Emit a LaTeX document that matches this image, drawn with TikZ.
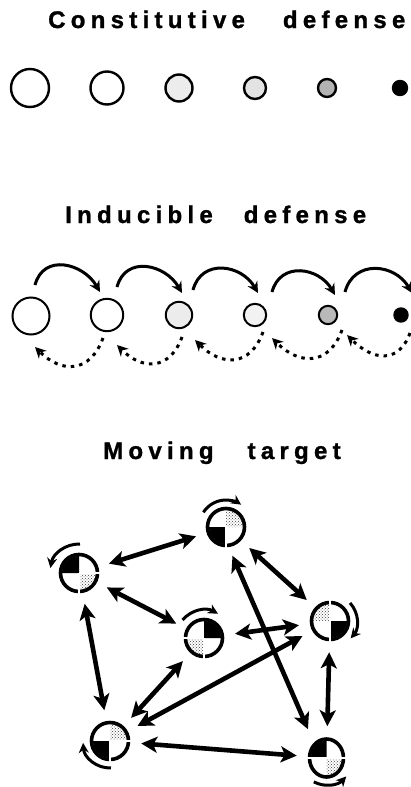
\documentclass[tikz,border=0pt]{standalone}
\usepackage{fontspec}
\setmainfont{Liberation Sans}
\newfontfamily\titlefont[LetterSpace=22, FakeBold=1.2]{Liberation Sans Bold}
\usetikzlibrary{arrows.meta,calc,patterns,shapes.geometric}

% quarter fills of a target disk: node, black sector start, grey sector start, x radius, y radius
\newcommand\quarters[5]{%
  \fill[black] (#1.center) -- ++(#2:#4 and #5)
    arc[start angle=#2, delta angle=90, x radius=#4, y radius=#5] -- cycle;
  \fill[pattern=crosshatch dots, pattern color=black!75] (#1.center) -- ++(#3:#4 and #5)
    arc[start angle=#3, delta angle=90, x radius=#4, y radius=#5] -- cycle;
}
% white slits cut through the ring along the dividers
\newcommand\slits[2]{%
  \foreach \a in {#2} \draw[white, line width=1.8pt] (#1.center) -- ++(\a:24);
}

\begin{document}
\begin{tikzpicture}[x=1pt, y=1pt,
  title/.style={anchor=base west, inner sep=0pt,
    font=\titlefont\fontsize{24}{28}\selectfont},
  dotA/.style={circle, draw, line width=2.4pt, inner sep=0pt, minimum size=#1},
  dotB/.style={circle, draw, line width=2pt, inner sep=0pt, minimum size=#1},
  target/.style={circle, draw, line width=3.6pt, inner sep=0pt, minimum size=37pt},
  ovaltarget/.style={ellipse, draw, line width=3.6pt, inner sep=0pt,
    minimum width=34pt, minimum height=38pt},
  fwd/.style={line width=3pt, -{Stealth[length=11pt,width=11pt]}},
  back/.style={line width=3pt, dash pattern=on 3.5pt off 5pt,
    -{Stealth[length=11pt,width=11pt]}},
  spin/.style={line width=3pt, -{Stealth[length=10pt,width=10pt]}},
  link/.style={line width=4.6pt,
    {Stealth[length=16pt,width=16pt,inset=4pt]}-{Stealth[length=16pt,width=16pt,inset=4pt]},
    shorten <=11pt, shorten >=11pt},
]
\useasboundingbox (0,0) rectangle (411,-787);
\fill[white] (0,0) rectangle (411,-787);

% ---- constitutive defense ----
\node[title] (t1) at (48,-28) {Constitutive\hspace{38pt}defense};
\node[dotA=38pt] (a1) at (30,-88) {};
\node[dotA=33pt] (a2) at (107,-88) {};
\node[dotA=27pt, fill=gray!15] (a3) at (179,-88) {};
\node[dotA=22pt, fill=gray!22] (a4) at (255,-88) {};
\node[dotA=18pt, fill=gray!60] (a5) at (327,-88) {};
\node[dotA=14pt, fill=black] (a6) at (400,-88) {};

% ---- inducible defense ----
\node[title] (t2) at (65,-223) {Inducible\hspace{31pt}defense};
\node[dotB=37pt] (b1) at (31,-316) {};
\node[dotB=32.4pt] (b2) at (107,-315) {};
\node[dotB=26.4pt, fill=gray!15] (b3) at (179,-315) {};
\node[dotB=22.4pt, fill=gray!10] (b4) at (255,-315) {};
\node[dotB=18.4pt, fill=gray!55] (b5) at (328,-315) {};
\node[dotB=13.4pt, fill=black] (b6) at (401,-315) {};

\draw[fwd] ($(b1)+(4,31)$)  to[out=75,in=120,looseness=1.3] ($(b2)+(-7,23)$);
\draw[fwd] ($(b2)+(10,28)$) to[out=75,in=120,looseness=1.3] ($(b3)+(3,22)$);
\draw[fwd] ($(b3)+(14,25)$) to[out=75,in=120,looseness=1.3] ($(b4)+(3,22)$);
\draw[fwd] ($(b4)+(17,23)$) to[out=75,in=120,looseness=1.3] ($(b5)+(7,20)$);
\draw[fwd] ($(b5)+(17,23)$) to[out=75,in=120,looseness=1.3] ($(b6)+(11,22)$);

\draw[back] ($(b2)+(-4,-23)$) to[out=250,in=-45,looseness=1.4] ($(b1)+(4,-31)$);
\draw[back] ($(b3)+(3,-22)$)  to[out=250,in=-45,looseness=1.4] ($(b2)+(10,-30)$);
\draw[back] ($(b4)+(8,-17)$)  to[out=250,in=-45,looseness=1.4] ($(b3)+(16,-25)$);
\draw[back] ($(b5)+(14,-15)$) to[out=250,in=-45,looseness=1.4] ($(b4)+(17,-23)$);
\draw[back] ($(b6)+(9,-18)$)  to[out=250,in=-45,looseness=1.4] ($(b5)+(19,-20)$);

% ---- moving target ----
\node[title] (t3) at (103,-459) {Moving\hspace{34pt}target};

\node[target] (T)  at (226,-527) {};
\node[target] (L)  at (79,-573) {};
\node[target] (M)  at (204,-638) {};
\node[target] (R)  at (330,-621) {};
\node[target] (BL) at (110,-741) {};
\node[ovaltarget] (BR) at (326.5,-758) {};

\quarters{T}{180}{0}{17}{17}
\quarters{L}{90}{270}{17}{17}
\quarters{M}{0}{180}{17}{17}
\quarters{R}{270}{90}{17}{17}
\quarters{BL}{180}{0}{17}{17}
\quarters{BR}{90}{270}{15.5}{17.5}

\slits{T}{270}
\slits{L}{270,0}
\slits{M}{270,180}
\slits{R}{90,270}
\slits{BL}{270,0}
\slits{BR}{180,0}

% spin of each target
\draw[spin] (T.center)  ++(147:27) arc[start angle=147, end angle=56, radius=27];
\draw[spin] (L.center)  ++(88:29)  arc[start angle=88, end angle=170, radius=29];
\draw[spin] (M.center)  ++(140:28) arc[start angle=140, end angle=60, radius=28];
\draw[spin] (R.center)  ++(42:27)  arc[start angle=42, end angle=-40, radius=27];
\draw[spin] (BL.center) ++(272:27) arc[start angle=272, end angle=184, radius=27];
\draw[spin] (BR.center) ++(242:27) arc[start angle=242, end angle=317, radius=27];

% links between targets
\draw[link] (L) -- (T);
\draw[link] (L) -- (M);
\draw[link] (T) -- (R);
\draw[link, transform canvas={xshift=-6pt}] (T) -- (BR);
\draw[link] (M) -- (R);
\draw[link] (BL) -- (R);
\draw[link] (BL) -- (M);
\draw[link] (L) -- (BL);
\draw[link] (BL) -- (BR);
\draw[link] (R) -- (BR);
\end{tikzpicture}
\end{document}
